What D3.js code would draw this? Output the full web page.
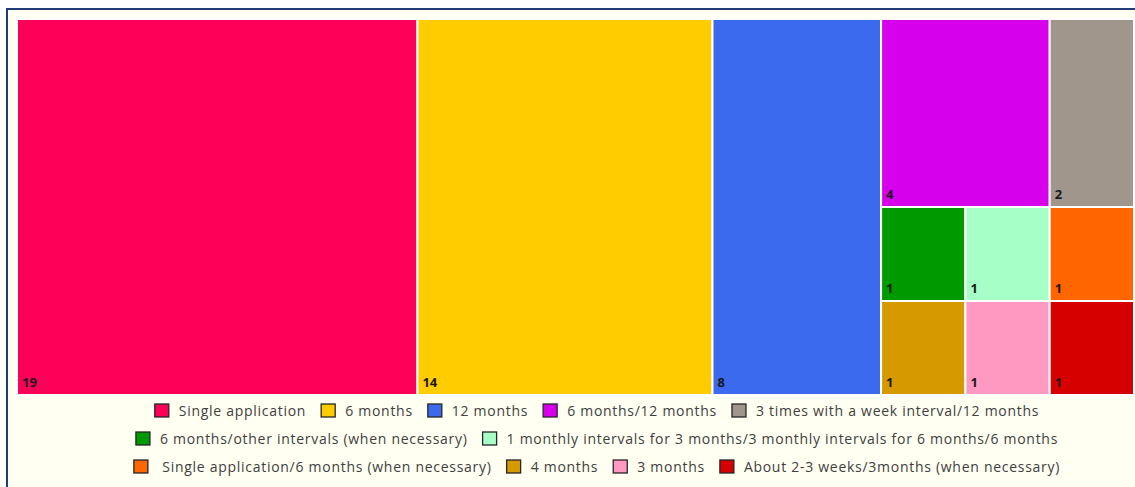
<!DOCTYPE html>
<html>
<head>
<meta charset="utf-8">
<script src="https://cdn.jsdelivr.net/npm/d3@7"></script>
<style>
  html, body { margin: 0; padding: 0; background: #fff; }
  svg { display: block; }
</style>
</head>
<body>
<script>
"use strict"

// categories, values and colours (legend order)
const categories = [
  "Single application",
  "6 months",
  "12 months",
  "6 months/12 months",
  "3 times with a week interval/12 months",
  "6 months/other intervals (when necessary)",
  "1 monthly intervals for 3 months/3 monthly intervals for 6 months/6 months",
  " Single application/6 months (when necessary)",
  "4 months",
  "3 months",
  "About 2-3 weeks/3months (when necessary)",
]
const values = [19, 14, 8, 4, 2, 1, 1, 1, 1, 1, 1]
const colors = [
  "#ff0058", "#ffcc00", "#3b6aee", "#d600ed", "#a0968c",
  "#009900", "#a6ffc6", "#ff6600", "#d69a00", "#ff99c2", "#d60000",
]
// how many legend entries go on each legend row
const legendRows = [5, 2, 4]

// grouping of tiles (indexes into the arrays above), as laid out by the original
const tiles = [0, 1, 2, [[3, 4], [5, 6, 7], [8, 9, 10]]]

const W = 1135, H = 487
const area = { x0 : 17, y0 : 19, x1 : 1134, y1 : 395 }

const svg = d3.select("body").append("svg")
  .attr("width", W)
  .attr("height", H)

// frame
svg.append("rect").attr("x", 0).attr("y", 0).attr("width", W).attr("height", H).attr("fill", "#fff")
svg.append("rect").attr("x", 7).attr("y", 9).attr("width", W).attr("height", H)
  .attr("fill", "#fffff2").attr("stroke", "#1f3c78").attr("stroke-width", 2)

// build nested hierarchy from the grouping
const toNode = t => Array.isArray(t)
  ? { children : t.map(toNode) }
  : { i : t, name : categories[t], value : values[t] }

const root = d3.hierarchy({ children : tiles.map(toNode) })
  .sum(d => d.value || 0)

d3.treemap()
  .size([area.x1 - area.x0, area.y1 - area.y0])
  .tile((node, x0, y0, x1, y1) =>
    (node.depth % 2 === 0 ? d3.treemapDice : d3.treemapSlice)(node, x0, y0, x1, y1))
  (root)

const cells = svg.append("g")
  .attr("transform", `translate(${area.x0},${area.y0})`)
  .selectAll("g")
  .data(root.leaves())
  .join("g")

cells.append("rect")
  .attr("x", d => d.x0)
  .attr("y", d => d.y0)
  .attr("width", d => d.x1 - d.x0)
  .attr("height", d => d.y1 - d.y0)
  .attr("fill", d => colors[d.data.i])
  .attr("stroke", "#fff")
  .attr("stroke-width", 2)

cells.append("text")
  .attr("x", d => d.x0 + 5)
  .attr("y", d => d.y1 - 8)
  .attr("font-family", "'Open Sans', sans-serif")
  .attr("font-size", 13)
  .attr("font-weight", "bold")
  .attr("fill", "#1a1a1a")
  .text(d => d.value)

// legend
const legendY = [411, 439, 467]
const legendCenter = 597
const legend = svg.append("g")
let start = 0
legendRows.forEach((count, r) => {
  const idx = d3.range(start, start + count)
  start += count
  const row = legend.append("g")
  let x = 0
  idx.forEach(i => {
    const item = row.append("g").attr("transform", `translate(${x},0)`)
    item.append("rect")
      .attr("x", 0).attr("y", -7)
      .attr("width", 14).attr("height", 13)
      .attr("fill", colors[i])
      .attr("stroke", "#262626")
      .attr("stroke-width", 1.3)
    const t = item.append("text")
      .attr("x", 24).attr("y", 5)
      .attr("font-family", "'Open Sans', sans-serif")
      .attr("font-size", 14)
      .attr("letter-spacing", 0.72)
      .attr("fill", "#404040")
      .attr("xml:space", "preserve")
      .style("white-space", "pre")
      .text(categories[i])
    x += 24 + t.node().getComputedTextLength() + 15
  })
  const w = x - 15
  row.attr("transform", `translate(${legendCenter - w / 2},${legendY[r]})`)
})
</script>
</body>
</html>
